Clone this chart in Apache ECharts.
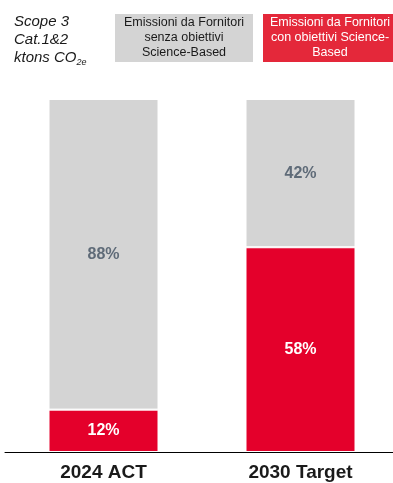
<!DOCTYPE html>
<html><head><meta charset="utf-8">
<script src="https://cdn.jsdelivr.net/npm/echarts@6/dist/echarts.min.js"></script>
<style>html,body{margin:0;padding:0;background:#fff}#c{width:393px;height:483px}</style>
</head><body><div id="c"></div>
<script>
const categories = ['2024 ACT', '2030 Target'];
const withSBT = [12, 58];
const withoutSBT = [88, 42];
const legendNames = ['Emissioni da Fornitori\nsenza obiettivi\nScience-Based', 'Emissioni da Fornitori\ncon obiettivi Science-\nBased'];

const chart = echarts.init(document.getElementById('c'));
chart.setOption({
  animation: false,
  grid: { left: 5, width: 394, top: 99, bottom: 31, outerBoundsMode: 'none', containLabel: false },
  xAxis: {
    type: 'category', data: categories,
    axisLine: { lineStyle: { color: '#000', width: 1 } },
    axisTick: { show: false },
    axisLabel: { fontFamily: 'Liberation Sans', fontWeight: 'bold', fontSize: 19, color: '#1a1a1a', margin: 11 }
  },
  yAxis: { type: 'value', min: 0, max: 100, show: false, splitLine: { show: false } },
  series: [
    {
      name: legendNames[1], type: 'bar', stack: 's', data: withSBT, barWidth: 110,
      itemStyle: { color: '#e4002b', borderColor: '#fff', borderWidth: 1 },
      label: { show: true, position: 'inside', formatter: '{c}%', color: '#fff', fontFamily: 'Liberation Sans', fontWeight: 'bold', fontSize: 16 }
    },
    {
      name: legendNames[0], type: 'bar', stack: 's', data: withoutSBT, barWidth: 110,
      itemStyle: { color: '#d4d4d4', borderColor: '#fff', borderWidth: 1 },
      label: { show: true, position: 'inside', formatter: '{c}%', color: '#5f6b78', fontFamily: 'Liberation Sans', fontWeight: 'bold', fontSize: 16 }
    }
  ],
  graphic: [
    { type: 'text', left: 14, top: 14, style: {
      text: '{a|Scope 3}\n{a|Cat.1&2}\n{a|ktons CO}{s|2e}',
      rich: {
        a: { fontFamily: 'Liberation Sans', fontStyle: 'italic', fontSize: 15, lineHeight: 18, fill: '#1a1a1a' },
        s: { fontFamily: 'Liberation Sans', fontStyle: 'italic', fontSize: 9, lineHeight: 18, fill: '#1a1a1a', padding: [10, 0, 0, 0] }
      } } },
    { type: 'rect', shape: { x: 115, y: 14, width: 138, height: 48 }, style: { fill: '#d4d4d4' } },
    { type: 'text', x: 184, y: 38, style: { text: legendNames[0], fill: '#1a1a1a', align: 'center', verticalAlign: 'middle', fontFamily: 'Liberation Sans', fontSize: 12.5, lineHeight: 15 } },
    { type: 'rect', shape: { x: 263, y: 14, width: 131, height: 48 }, style: { fill: '#e4283a' } },
    { type: 'text', x: 330, y: 38, style: { text: legendNames[1], fill: '#fff', align: 'center', verticalAlign: 'middle', fontFamily: 'Liberation Sans', fontSize: 12.5, lineHeight: 15 } }
  ]
});
</script></body></html>
